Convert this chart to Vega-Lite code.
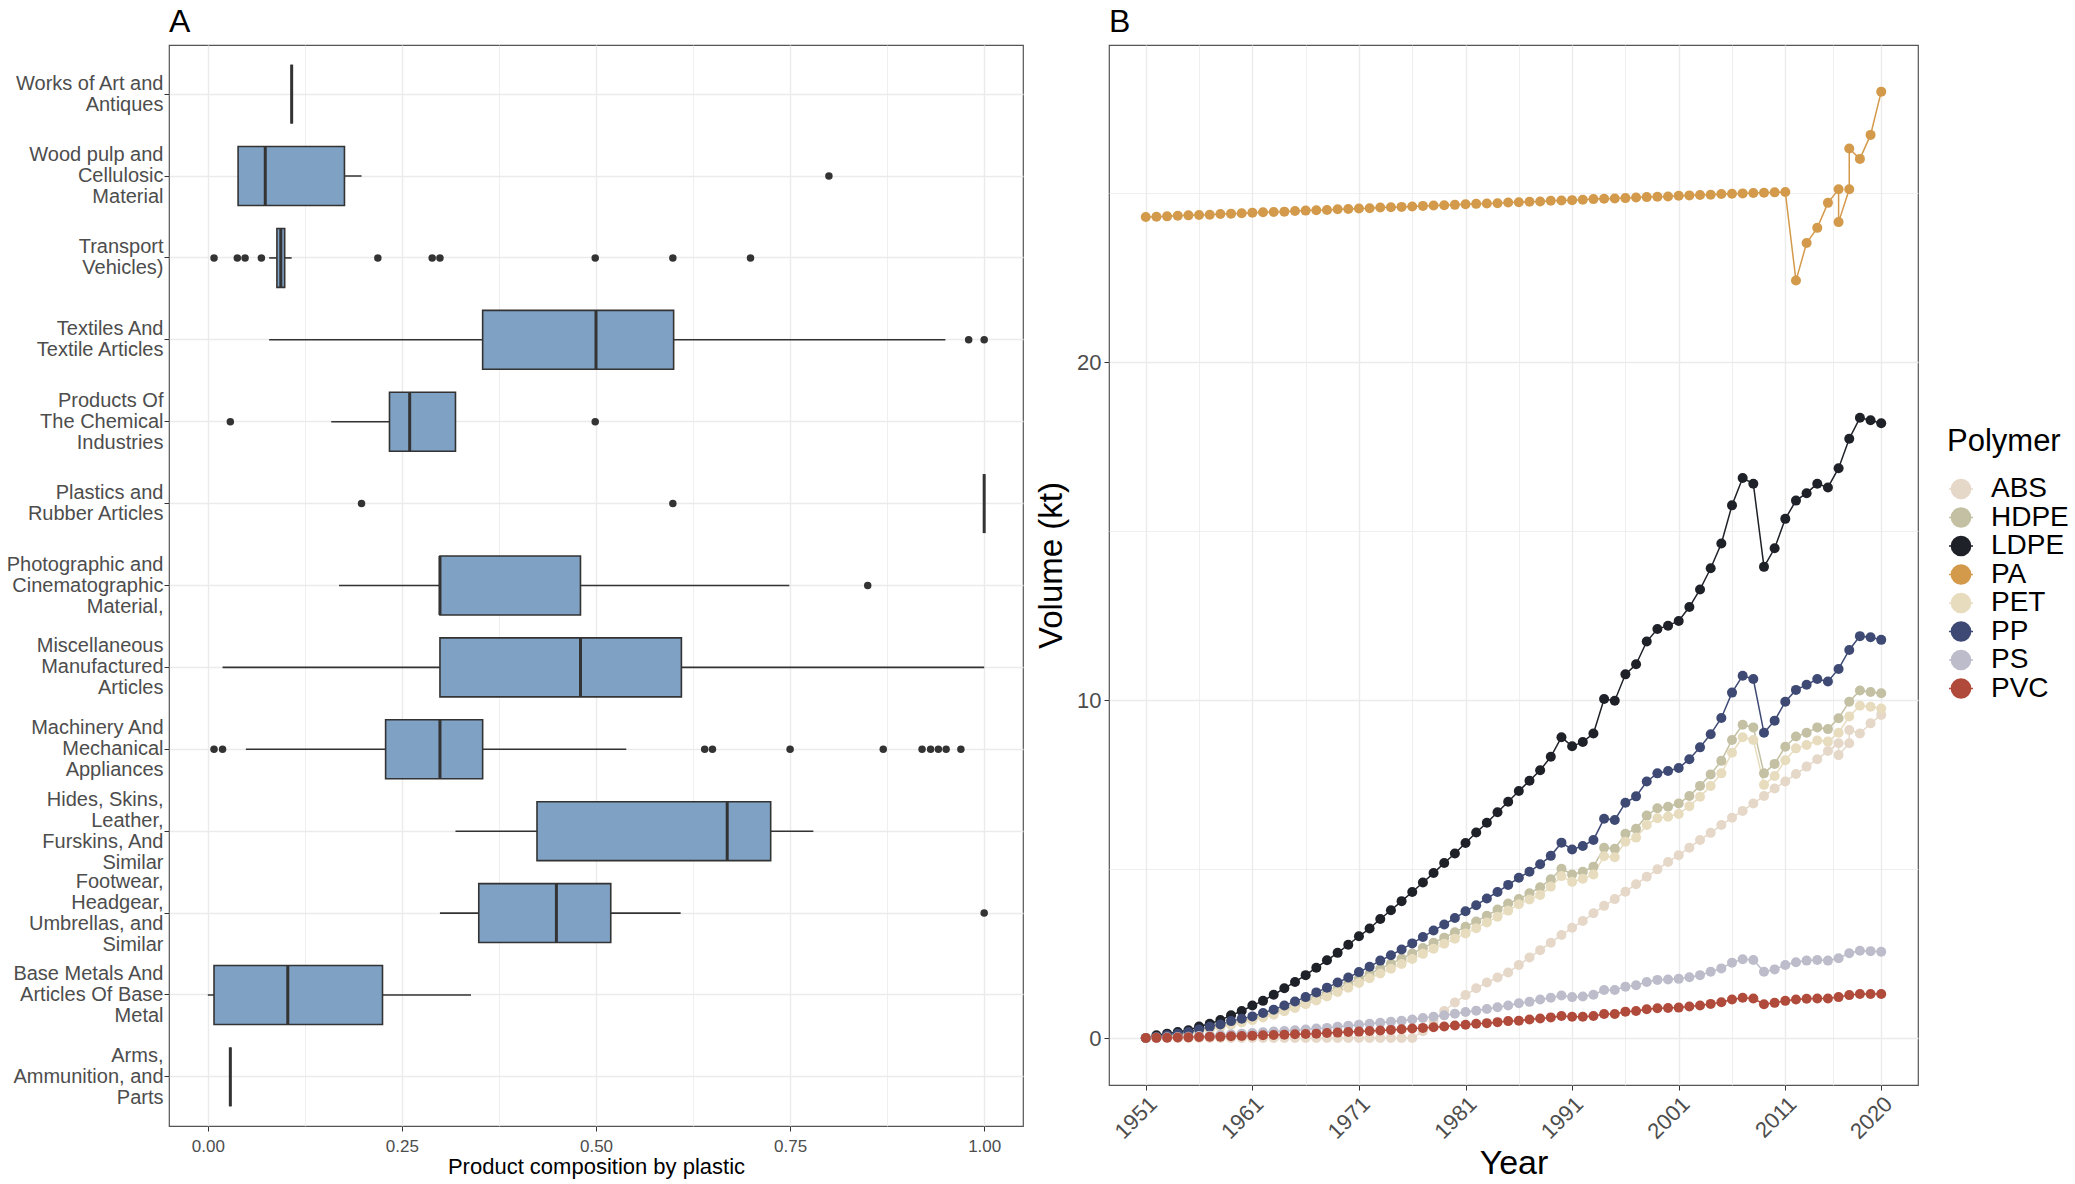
{
  "$schema": "https://vega.github.io/schema/vega-lite/v6.json",
  "background": "white",
  "padding": {"left": 5, "top": 5, "right": 5, "bottom": 0},
  "spacing": 10,
  "config": {
    "font": "Liberation Sans",
    "view": {"stroke": "#555555", "strokeWidth": 1.2},
    "title": {"fontSize": 32, "fontWeight": "normal", "anchor": "start", "frame": "group", "offset": 6, "color": "black"},
    "axis": {"domain": false, "tickColor": "#333333", "tickSize": 5, "gridColor": "#EBEBEB", "labelColor": "#4D4D4D", "titleColor": "black", "titleFontWeight": "normal"}
  },
  "resolve": {"scale": {"color": "shared"}},
  "datasets": {
    "box": [
      {"c": "Works of Art and\nAntiques", "lo": 0.108, "q1": 0.108, "med": 0.108, "q3": 0.108, "hi": 0.108},
      {"c": "Wood pulp and\nCellulosic\nMaterial", "lo": 0.039, "q1": 0.039, "med": 0.074, "q3": 0.176, "hi": 0.198},
      {"c": "Transport\nVehicles)", "lo": 0.079, "q1": 0.089, "med": 0.094, "q3": 0.099, "hi": 0.108},
      {"c": "Textiles And\nTextile Articles", "lo": 0.079, "q1": 0.354, "med": 0.5, "q3": 0.6, "hi": 0.95},
      {"c": "Products Of\nThe Chemical\nIndustries", "lo": 0.159, "q1": 0.234, "med": 0.26, "q3": 0.319, "hi": 0.319},
      {"c": "Plastics and\nRubber Articles", "lo": 1.0, "q1": 1.0, "med": 1.0, "q3": 1.0, "hi": 1.0},
      {"c": "Photographic and\nCinematographic\nMaterial,", "lo": 0.169, "q1": 0.299, "med": 0.299, "q3": 0.48, "hi": 0.749},
      {"c": "Miscellaneous\nManufactured\nArticles", "lo": 0.019, "q1": 0.299, "med": 0.48, "q3": 0.61, "hi": 1.0},
      {"c": "Machinery And\nMechanical\nAppliances", "lo": 0.049, "q1": 0.229, "med": 0.299, "q3": 0.354, "hi": 0.539},
      {"c": "Hides, Skins,\nLeather,\nFurskins, And\nSimilar", "lo": 0.319, "q1": 0.424, "med": 0.669, "q3": 0.725, "hi": 0.78},
      {"c": "Footwear,\nHeadgear,\nUmbrellas, and\nSimilar", "lo": 0.299, "q1": 0.349, "med": 0.449, "q3": 0.519, "hi": 0.609},
      {"c": "Base Metals And\nArticles Of Base\nMetal", "lo": 0.0, "q1": 0.008, "med": 0.103, "q3": 0.225, "hi": 0.339},
      {"c": "Arms,\nAmmunition, and\nParts", "lo": 0.029, "q1": 0.029, "med": 0.029, "q3": 0.029, "hi": 0.029}
    ],
    "out": [
      {"c": "Wood pulp and\nCellulosic\nMaterial", "x": 0.8},
      {"c": "Transport\nVehicles)", "x": 0.008},
      {"c": "Transport\nVehicles)", "x": 0.038},
      {"c": "Transport\nVehicles)", "x": 0.048},
      {"c": "Transport\nVehicles)", "x": 0.069},
      {"c": "Transport\nVehicles)", "x": 0.219},
      {"c": "Transport\nVehicles)", "x": 0.289},
      {"c": "Transport\nVehicles)", "x": 0.299},
      {"c": "Transport\nVehicles)", "x": 0.499},
      {"c": "Transport\nVehicles)", "x": 0.599},
      {"c": "Transport\nVehicles)", "x": 0.699},
      {"c": "Textiles And\nTextile Articles", "x": 0.98},
      {"c": "Textiles And\nTextile Articles", "x": 1.0},
      {"c": "Products Of\nThe Chemical\nIndustries", "x": 0.029},
      {"c": "Products Of\nThe Chemical\nIndustries", "x": 0.499},
      {"c": "Plastics and\nRubber Articles", "x": 0.198},
      {"c": "Plastics and\nRubber Articles", "x": 0.599},
      {"c": "Photographic and\nCinematographic\nMaterial,", "x": 0.85},
      {"c": "Machinery And\nMechanical\nAppliances", "x": 0.008},
      {"c": "Machinery And\nMechanical\nAppliances", "x": 0.019},
      {"c": "Machinery And\nMechanical\nAppliances", "x": 0.64},
      {"c": "Machinery And\nMechanical\nAppliances", "x": 0.65},
      {"c": "Machinery And\nMechanical\nAppliances", "x": 0.75},
      {"c": "Machinery And\nMechanical\nAppliances", "x": 0.87},
      {"c": "Machinery And\nMechanical\nAppliances", "x": 0.92},
      {"c": "Machinery And\nMechanical\nAppliances", "x": 0.931},
      {"c": "Machinery And\nMechanical\nAppliances", "x": 0.941},
      {"c": "Machinery And\nMechanical\nAppliances", "x": 0.951},
      {"c": "Machinery And\nMechanical\nAppliances", "x": 0.97},
      {"c": "Footwear,\nHeadgear,\nUmbrellas, and\nSimilar", "x": 1.0}
    ],
    "poly": [
      {"p":"ABS","yr":1951,"v":0},{"p":"ABS","yr":1952,"v":0},{"p":"ABS","yr":1953,"v":0},{"p":"ABS","yr":1954,"v":0},{"p":"ABS","yr":1955,"v":0},{"p":"ABS","yr":1956,"v":0},{"p":"ABS","yr":1957,"v":0},{"p":"ABS","yr":1958,"v":0},{"p":"ABS","yr":1959,"v":0},{"p":"ABS","yr":1960,"v":0},
      {"p":"ABS","yr":1961,"v":0},{"p":"ABS","yr":1962,"v":0},{"p":"ABS","yr":1963,"v":0},{"p":"ABS","yr":1964,"v":0},{"p":"ABS","yr":1965,"v":0},{"p":"ABS","yr":1966,"v":0},{"p":"ABS","yr":1967,"v":0},{"p":"ABS","yr":1968,"v":0},{"p":"ABS","yr":1969,"v":0},{"p":"ABS","yr":1970,"v":0},
      {"p":"ABS","yr":1971,"v":0},{"p":"ABS","yr":1972,"v":0},{"p":"ABS","yr":1973,"v":0},{"p":"ABS","yr":1974,"v":0},{"p":"ABS","yr":1975,"v":0},{"p":"ABS","yr":1976,"v":0},{"p":"ABS","yr":1977,"v":0.2},{"p":"ABS","yr":1978,"v":0.5},{"p":"ABS","yr":1979,"v":0.8},{"p":"ABS","yr":1980,"v":1.05},
      {"p":"ABS","yr":1981,"v":1.27},{"p":"ABS","yr":1982,"v":1.47},{"p":"ABS","yr":1983,"v":1.64},{"p":"ABS","yr":1984,"v":1.79},{"p":"ABS","yr":1985,"v":1.94},{"p":"ABS","yr":1986,"v":2.16},{"p":"ABS","yr":1987,"v":2.38},{"p":"ABS","yr":1988,"v":2.6},{"p":"ABS","yr":1989,"v":2.82},{"p":"ABS","yr":1990,"v":3.05},
      {"p":"ABS","yr":1991,"v":3.26},{"p":"ABS","yr":1992,"v":3.46},{"p":"ABS","yr":1993,"v":3.69},{"p":"ABS","yr":1994,"v":3.91},{"p":"ABS","yr":1995,"v":4.11},{"p":"ABS","yr":1996,"v":4.33},{"p":"ABS","yr":1997,"v":4.55},{"p":"ABS","yr":1998,"v":4.77},{"p":"ABS","yr":1999,"v":4.99},{"p":"ABS","yr":2000,"v":5.21},
      {"p":"ABS","yr":2001,"v":5.41},{"p":"ABS","yr":2002,"v":5.63},{"p":"ABS","yr":2003,"v":5.86},{"p":"ABS","yr":2004,"v":6.07},{"p":"ABS","yr":2005,"v":6.3},{"p":"ABS","yr":2006,"v":6.52},{"p":"ABS","yr":2007,"v":6.72},{"p":"ABS","yr":2008,"v":6.94},{"p":"ABS","yr":2009,"v":7.16},{"p":"ABS","yr":2010,"v":7.38},
      {"p":"ABS","yr":2011,"v":7.59},{"p":"ABS","yr":2012,"v":7.81},{"p":"ABS","yr":2013,"v":8.03},{"p":"ABS","yr":2014,"v":8.25},{"p":"ABS","yr":2015,"v":8.49},{"p":"ABS","yr":2016,"v":8.72},{"p":"ABS","yr":2016,"v":8.37},{"p":"ABS","yr":2017,"v":8.72},{"p":"ABS","yr":2017,"v":9.11},{"p":"ABS","yr":2018,"v":9.01},{"p":"ABS","yr":2019,"v":9.31},{"p":"ABS","yr":2020,"v":9.56},

      {"p":"HDPE","yr":1951,"v":0},{"p":"HDPE","yr":1952,"v":0.03},{"p":"HDPE","yr":1953,"v":0.07},{"p":"HDPE","yr":1954,"v":0.11},{"p":"HDPE","yr":1955,"v":0.16},{"p":"HDPE","yr":1956,"v":0.22},{"p":"HDPE","yr":1957,"v":0.29},{"p":"HDPE","yr":1958,"v":0.36},{"p":"HDPE","yr":1959,"v":0.44},{"p":"HDPE","yr":1960,"v":0.51},
      {"p":"HDPE","yr":1961,"v":0.58},{"p":"HDPE","yr":1962,"v":0.66},{"p":"HDPE","yr":1963,"v":0.75},{"p":"HDPE","yr":1964,"v":0.85},{"p":"HDPE","yr":1965,"v":0.96},{"p":"HDPE","yr":1966,"v":1.08},{"p":"HDPE","yr":1967,"v":1.2},{"p":"HDPE","yr":1968,"v":1.33},{"p":"HDPE","yr":1969,"v":1.47},{"p":"HDPE","yr":1970,"v":1.61},
      {"p":"HDPE","yr":1971,"v":1.76},{"p":"HDPE","yr":1972,"v":1.9},{"p":"HDPE","yr":1973,"v":2.05},{"p":"HDPE","yr":1974,"v":2.2},{"p":"HDPE","yr":1975,"v":2.35},{"p":"HDPE","yr":1976,"v":2.5},{"p":"HDPE","yr":1977,"v":2.66},{"p":"HDPE","yr":1978,"v":2.82},{"p":"HDPE","yr":1979,"v":2.97},{"p":"HDPE","yr":1980,"v":3.13},
      {"p":"HDPE","yr":1981,"v":3.29},{"p":"HDPE","yr":1982,"v":3.45},{"p":"HDPE","yr":1983,"v":3.62},{"p":"HDPE","yr":1984,"v":3.8},{"p":"HDPE","yr":1985,"v":3.98},{"p":"HDPE","yr":1986,"v":4.11},{"p":"HDPE","yr":1987,"v":4.28},{"p":"HDPE","yr":1988,"v":4.46},{"p":"HDPE","yr":1989,"v":4.7},{"p":"HDPE","yr":1990,"v":5.01},
      {"p":"HDPE","yr":1991,"v":4.84},{"p":"HDPE","yr":1992,"v":4.92},{"p":"HDPE","yr":1993,"v":5.07},{"p":"HDPE","yr":1994,"v":5.63},{"p":"HDPE","yr":1995,"v":5.6},{"p":"HDPE","yr":1996,"v":6.04},{"p":"HDPE","yr":1997,"v":6.19},{"p":"HDPE","yr":1998,"v":6.58},{"p":"HDPE","yr":1999,"v":6.8},{"p":"HDPE","yr":2000,"v":6.84},
      {"p":"HDPE","yr":2001,"v":6.94},{"p":"HDPE","yr":2002,"v":7.16},{"p":"HDPE","yr":2003,"v":7.46},{"p":"HDPE","yr":2004,"v":7.8},{"p":"HDPE","yr":2005,"v":8.2},{"p":"HDPE","yr":2006,"v":8.82},{"p":"HDPE","yr":2007,"v":9.27},{"p":"HDPE","yr":2008,"v":9.19},{"p":"HDPE","yr":2009,"v":7.83},{"p":"HDPE","yr":2010,"v":8.11},
      {"p":"HDPE","yr":2011,"v":8.62},{"p":"HDPE","yr":2012,"v":8.92},{"p":"HDPE","yr":2013,"v":9.03},{"p":"HDPE","yr":2014,"v":9.19},{"p":"HDPE","yr":2015,"v":9.14},{"p":"HDPE","yr":2016,"v":9.46},{"p":"HDPE","yr":2017,"v":9.95},{"p":"HDPE","yr":2018,"v":10.28},{"p":"HDPE","yr":2019,"v":10.24},{"p":"HDPE","yr":2020,"v":10.2},

      {"p":"LDPE","yr":1951,"v":0},{"p":"LDPE","yr":1952,"v":0.08},{"p":"LDPE","yr":1953,"v":0.13},{"p":"LDPE","yr":1954,"v":0.18},{"p":"LDPE","yr":1955,"v":0.23},{"p":"LDPE","yr":1956,"v":0.34},{"p":"LDPE","yr":1957,"v":0.42},{"p":"LDPE","yr":1958,"v":0.53},{"p":"LDPE","yr":1959,"v":0.67},{"p":"LDPE","yr":1960,"v":0.8},
      {"p":"LDPE","yr":1961,"v":0.96},{"p":"LDPE","yr":1962,"v":1.1},{"p":"LDPE","yr":1963,"v":1.28},{"p":"LDPE","yr":1964,"v":1.47},{"p":"LDPE","yr":1965,"v":1.66},{"p":"LDPE","yr":1966,"v":1.86},{"p":"LDPE","yr":1967,"v":2.08},{"p":"LDPE","yr":1968,"v":2.3},{"p":"LDPE","yr":1969,"v":2.52},{"p":"LDPE","yr":1970,"v":2.76},
      {"p":"LDPE","yr":1971,"v":3.01},{"p":"LDPE","yr":1972,"v":3.24},{"p":"LDPE","yr":1973,"v":3.52},{"p":"LDPE","yr":1974,"v":3.78},{"p":"LDPE","yr":1975,"v":4.05},{"p":"LDPE","yr":1976,"v":4.32},{"p":"LDPE","yr":1977,"v":4.6},{"p":"LDPE","yr":1978,"v":4.88},{"p":"LDPE","yr":1979,"v":5.18},{"p":"LDPE","yr":1980,"v":5.46},
      {"p":"LDPE","yr":1981,"v":5.77},{"p":"LDPE","yr":1982,"v":6.08},{"p":"LDPE","yr":1983,"v":6.37},{"p":"LDPE","yr":1984,"v":6.68},{"p":"LDPE","yr":1985,"v":6.99},{"p":"LDPE","yr":1986,"v":7.31},{"p":"LDPE","yr":1987,"v":7.61},{"p":"LDPE","yr":1988,"v":7.92},{"p":"LDPE","yr":1989,"v":8.32},{"p":"LDPE","yr":1990,"v":8.9},
      {"p":"LDPE","yr":1991,"v":8.63},{"p":"LDPE","yr":1992,"v":8.76},{"p":"LDPE","yr":1993,"v":9.01},{"p":"LDPE","yr":1994,"v":10.03},{"p":"LDPE","yr":1995,"v":9.98},{"p":"LDPE","yr":1996,"v":10.76},{"p":"LDPE","yr":1997,"v":11.06},{"p":"LDPE","yr":1998,"v":11.73},{"p":"LDPE","yr":1999,"v":12.1},{"p":"LDPE","yr":2000,"v":12.2},
      {"p":"LDPE","yr":2001,"v":12.34},{"p":"LDPE","yr":2002,"v":12.75},{"p":"LDPE","yr":2003,"v":13.27},{"p":"LDPE","yr":2004,"v":13.9},{"p":"LDPE","yr":2005,"v":14.63},{"p":"LDPE","yr":2006,"v":15.76},{"p":"LDPE","yr":2007,"v":16.57},{"p":"LDPE","yr":2008,"v":16.4},{"p":"LDPE","yr":2009,"v":13.94},{"p":"LDPE","yr":2010,"v":14.49},
      {"p":"LDPE","yr":2011,"v":15.36},{"p":"LDPE","yr":2012,"v":15.9},{"p":"LDPE","yr":2013,"v":16.12},{"p":"LDPE","yr":2014,"v":16.4},{"p":"LDPE","yr":2015,"v":16.29},{"p":"LDPE","yr":2016,"v":16.86},{"p":"LDPE","yr":2017,"v":17.73},{"p":"LDPE","yr":2018,"v":18.35},{"p":"LDPE","yr":2019,"v":18.28},{"p":"LDPE","yr":2020,"v":18.19},

      {"p":"PA","yr":1951,"v":24.29},{"p":"PA","yr":1952,"v":24.3},{"p":"PA","yr":1953,"v":24.31},{"p":"PA","yr":1954,"v":24.33},{"p":"PA","yr":1955,"v":24.34},{"p":"PA","yr":1956,"v":24.35},{"p":"PA","yr":1957,"v":24.36},{"p":"PA","yr":1958,"v":24.38},{"p":"PA","yr":1959,"v":24.39},{"p":"PA","yr":1960,"v":24.4},
      {"p":"PA","yr":1961,"v":24.42},{"p":"PA","yr":1962,"v":24.43},{"p":"PA","yr":1963,"v":24.44},{"p":"PA","yr":1964,"v":24.45},{"p":"PA","yr":1965,"v":24.47},{"p":"PA","yr":1966,"v":24.48},{"p":"PA","yr":1967,"v":24.49},{"p":"PA","yr":1968,"v":24.5},{"p":"PA","yr":1969,"v":24.52},{"p":"PA","yr":1970,"v":24.53},
      {"p":"PA","yr":1971,"v":24.54},{"p":"PA","yr":1972,"v":24.55},{"p":"PA","yr":1973,"v":24.57},{"p":"PA","yr":1974,"v":24.58},{"p":"PA","yr":1975,"v":24.59},{"p":"PA","yr":1976,"v":24.6},{"p":"PA","yr":1977,"v":24.62},{"p":"PA","yr":1978,"v":24.63},{"p":"PA","yr":1979,"v":24.64},{"p":"PA","yr":1980,"v":24.65},
      {"p":"PA","yr":1981,"v":24.67},{"p":"PA","yr":1982,"v":24.68},{"p":"PA","yr":1983,"v":24.69},{"p":"PA","yr":1984,"v":24.7},{"p":"PA","yr":1985,"v":24.72},{"p":"PA","yr":1986,"v":24.73},{"p":"PA","yr":1987,"v":24.74},{"p":"PA","yr":1988,"v":24.75},{"p":"PA","yr":1989,"v":24.77},{"p":"PA","yr":1990,"v":24.78},
      {"p":"PA","yr":1991,"v":24.79},{"p":"PA","yr":1992,"v":24.8},{"p":"PA","yr":1993,"v":24.82},{"p":"PA","yr":1994,"v":24.83},{"p":"PA","yr":1995,"v":24.84},{"p":"PA","yr":1996,"v":24.85},{"p":"PA","yr":1997,"v":24.87},{"p":"PA","yr":1998,"v":24.88},{"p":"PA","yr":1999,"v":24.89},{"p":"PA","yr":2000,"v":24.9},
      {"p":"PA","yr":2001,"v":24.92},{"p":"PA","yr":2002,"v":24.93},{"p":"PA","yr":2003,"v":24.94},{"p":"PA","yr":2004,"v":24.95},{"p":"PA","yr":2005,"v":24.97},{"p":"PA","yr":2006,"v":24.98},{"p":"PA","yr":2007,"v":24.99},{"p":"PA","yr":2008,"v":25.0},{"p":"PA","yr":2009,"v":25.01},{"p":"PA","yr":2010,"v":25.02},
      {"p":"PA","yr":2011,"v":25.03},{"p":"PA","yr":2012,"v":22.41},{"p":"PA","yr":2013,"v":23.52},{"p":"PA","yr":2014,"v":23.97},{"p":"PA","yr":2015,"v":24.71},{"p":"PA","yr":2016,"v":25.11},{"p":"PA","yr":2016,"v":24.14},{"p":"PA","yr":2017,"v":25.11},{"p":"PA","yr":2017,"v":26.32},{"p":"PA","yr":2018,"v":26.01},{"p":"PA","yr":2019,"v":26.72},{"p":"PA","yr":2020,"v":28.0},

      {"p":"PET","yr":1951,"v":0},{"p":"PET","yr":1952,"v":0.02},{"p":"PET","yr":1953,"v":0.05},{"p":"PET","yr":1954,"v":0.09},{"p":"PET","yr":1955,"v":0.13},{"p":"PET","yr":1956,"v":0.19},{"p":"PET","yr":1957,"v":0.25},{"p":"PET","yr":1958,"v":0.32},{"p":"PET","yr":1959,"v":0.39},{"p":"PET","yr":1960,"v":0.46},
      {"p":"PET","yr":1961,"v":0.53},{"p":"PET","yr":1962,"v":0.61},{"p":"PET","yr":1963,"v":0.69},{"p":"PET","yr":1964,"v":0.79},{"p":"PET","yr":1965,"v":0.89},{"p":"PET","yr":1966,"v":1.0},{"p":"PET","yr":1967,"v":1.11},{"p":"PET","yr":1968,"v":1.23},{"p":"PET","yr":1969,"v":1.36},{"p":"PET","yr":1970,"v":1.49},
      {"p":"PET","yr":1971,"v":1.63},{"p":"PET","yr":1972,"v":1.77},{"p":"PET","yr":1973,"v":1.91},{"p":"PET","yr":1974,"v":2.05},{"p":"PET","yr":1975,"v":2.19},{"p":"PET","yr":1976,"v":2.34},{"p":"PET","yr":1977,"v":2.49},{"p":"PET","yr":1978,"v":2.64},{"p":"PET","yr":1979,"v":2.79},{"p":"PET","yr":1980,"v":2.94},
      {"p":"PET","yr":1981,"v":3.09},{"p":"PET","yr":1982,"v":3.25},{"p":"PET","yr":1983,"v":3.42},{"p":"PET","yr":1984,"v":3.59},{"p":"PET","yr":1985,"v":3.77},{"p":"PET","yr":1986,"v":3.96},{"p":"PET","yr":1987,"v":4.1},{"p":"PET","yr":1988,"v":4.23},{"p":"PET","yr":1989,"v":4.48},{"p":"PET","yr":1990,"v":4.79},
      {"p":"PET","yr":1991,"v":4.62},{"p":"PET","yr":1992,"v":4.71},{"p":"PET","yr":1993,"v":4.84},{"p":"PET","yr":1994,"v":5.38},{"p":"PET","yr":1995,"v":5.35},{"p":"PET","yr":1996,"v":5.81},{"p":"PET","yr":1997,"v":5.93},{"p":"PET","yr":1998,"v":6.3},{"p":"PET","yr":1999,"v":6.5},{"p":"PET","yr":2000,"v":6.55},
      {"p":"PET","yr":2001,"v":6.63},{"p":"PET","yr":2002,"v":6.86},{"p":"PET","yr":2003,"v":7.14},{"p":"PET","yr":2004,"v":7.46},{"p":"PET","yr":2005,"v":7.83},{"p":"PET","yr":2006,"v":8.44},{"p":"PET","yr":2007,"v":8.9},{"p":"PET","yr":2008,"v":8.82},{"p":"PET","yr":2009,"v":7.49},{"p":"PET","yr":2010,"v":7.75},
      {"p":"PET","yr":2011,"v":8.22},{"p":"PET","yr":2012,"v":8.57},{"p":"PET","yr":2013,"v":8.67},{"p":"PET","yr":2014,"v":8.8},{"p":"PET","yr":2015,"v":8.77},{"p":"PET","yr":2016,"v":9.03},{"p":"PET","yr":2017,"v":9.51},{"p":"PET","yr":2018,"v":9.83},{"p":"PET","yr":2019,"v":9.8},{"p":"PET","yr":2020,"v":9.75},

      {"p":"PP","yr":1951,"v":0},{"p":"PP","yr":1952,"v":0.03},{"p":"PP","yr":1953,"v":0.08},{"p":"PP","yr":1954,"v":0.13},{"p":"PP","yr":1955,"v":0.18},{"p":"PP","yr":1956,"v":0.25},{"p":"PP","yr":1957,"v":0.33},{"p":"PP","yr":1958,"v":0.4},{"p":"PP","yr":1959,"v":0.5},{"p":"PP","yr":1960,"v":0.57},
      {"p":"PP","yr":1961,"v":0.64},{"p":"PP","yr":1962,"v":0.74},{"p":"PP","yr":1963,"v":0.84},{"p":"PP","yr":1964,"v":0.96},{"p":"PP","yr":1965,"v":1.08},{"p":"PP","yr":1966,"v":1.21},{"p":"PP","yr":1967,"v":1.35},{"p":"PP","yr":1968,"v":1.49},{"p":"PP","yr":1969,"v":1.64},{"p":"PP","yr":1970,"v":1.79},
      {"p":"PP","yr":1971,"v":1.95},{"p":"PP","yr":1972,"v":2.11},{"p":"PP","yr":1973,"v":2.29},{"p":"PP","yr":1974,"v":2.45},{"p":"PP","yr":1975,"v":2.62},{"p":"PP","yr":1976,"v":2.8},{"p":"PP","yr":1977,"v":2.99},{"p":"PP","yr":1978,"v":3.18},{"p":"PP","yr":1979,"v":3.36},{"p":"PP","yr":1980,"v":3.55},
      {"p":"PP","yr":1981,"v":3.75},{"p":"PP","yr":1982,"v":3.93},{"p":"PP","yr":1983,"v":4.13},{"p":"PP","yr":1984,"v":4.32},{"p":"PP","yr":1985,"v":4.53},{"p":"PP","yr":1986,"v":4.74},{"p":"PP","yr":1987,"v":4.92},{"p":"PP","yr":1988,"v":5.14},{"p":"PP","yr":1989,"v":5.39},{"p":"PP","yr":1990,"v":5.78},
      {"p":"PP","yr":1991,"v":5.58},{"p":"PP","yr":1992,"v":5.68},{"p":"PP","yr":1993,"v":5.86},{"p":"PP","yr":1994,"v":6.49},{"p":"PP","yr":1995,"v":6.45},{"p":"PP","yr":1996,"v":6.96},{"p":"PP","yr":1997,"v":7.15},{"p":"PP","yr":1998,"v":7.59},{"p":"PP","yr":1999,"v":7.83},{"p":"PP","yr":2000,"v":7.9},
      {"p":"PP","yr":2001,"v":7.99},{"p":"PP","yr":2002,"v":8.25},{"p":"PP","yr":2003,"v":8.6},{"p":"PP","yr":2004,"v":8.99},{"p":"PP","yr":2005,"v":9.47},{"p":"PP","yr":2006,"v":10.22},{"p":"PP","yr":2007,"v":10.72},{"p":"PP","yr":2008,"v":10.62},{"p":"PP","yr":2009,"v":9.03},{"p":"PP","yr":2010,"v":9.39},
      {"p":"PP","yr":2011,"v":9.95},{"p":"PP","yr":2012,"v":10.3},{"p":"PP","yr":2013,"v":10.45},{"p":"PP","yr":2014,"v":10.62},{"p":"PP","yr":2015,"v":10.55},{"p":"PP","yr":2016,"v":10.92},{"p":"PP","yr":2017,"v":11.48},{"p":"PP","yr":2018,"v":11.89},{"p":"PP","yr":2019,"v":11.86},{"p":"PP","yr":2020,"v":11.78},

      {"p":"PS","yr":1951,"v":0},{"p":"PS","yr":1952,"v":0.01},{"p":"PS","yr":1953,"v":0.02},{"p":"PS","yr":1954,"v":0.03},{"p":"PS","yr":1955,"v":0.04},{"p":"PS","yr":1956,"v":0.06},{"p":"PS","yr":1957,"v":0.07},{"p":"PS","yr":1958,"v":0.09},{"p":"PS","yr":1959,"v":0.11},{"p":"PS","yr":1960,"v":0.13},
      {"p":"PS","yr":1961,"v":0.15},{"p":"PS","yr":1962,"v":0.17},{"p":"PS","yr":1963,"v":0.19},{"p":"PS","yr":1964,"v":0.21},{"p":"PS","yr":1965,"v":0.23},{"p":"PS","yr":1966,"v":0.25},{"p":"PS","yr":1967,"v":0.28},{"p":"PS","yr":1968,"v":0.3},{"p":"PS","yr":1969,"v":0.33},{"p":"PS","yr":1970,"v":0.36},
      {"p":"PS","yr":1971,"v":0.39},{"p":"PS","yr":1972,"v":0.42},{"p":"PS","yr":1973,"v":0.45},{"p":"PS","yr":1974,"v":0.48},{"p":"PS","yr":1975,"v":0.51},{"p":"PS","yr":1976,"v":0.55},{"p":"PS","yr":1977,"v":0.59},{"p":"PS","yr":1978,"v":0.63},{"p":"PS","yr":1979,"v":0.67},{"p":"PS","yr":1980,"v":0.72},
      {"p":"PS","yr":1981,"v":0.77},{"p":"PS","yr":1982,"v":0.81},{"p":"PS","yr":1983,"v":0.86},{"p":"PS","yr":1984,"v":0.91},{"p":"PS","yr":1985,"v":0.96},{"p":"PS","yr":1986,"v":1.03},{"p":"PS","yr":1987,"v":1.07},{"p":"PS","yr":1988,"v":1.14},{"p":"PS","yr":1989,"v":1.19},{"p":"PS","yr":1990,"v":1.26},
      {"p":"PS","yr":1991,"v":1.21},{"p":"PS","yr":1992,"v":1.23},{"p":"PS","yr":1993,"v":1.28},{"p":"PS","yr":1994,"v":1.42},{"p":"PS","yr":1995,"v":1.42},{"p":"PS","yr":1996,"v":1.52},{"p":"PS","yr":1997,"v":1.56},{"p":"PS","yr":1998,"v":1.66},{"p":"PS","yr":1999,"v":1.72},{"p":"PS","yr":2000,"v":1.73},
      {"p":"PS","yr":2001,"v":1.75},{"p":"PS","yr":2002,"v":1.8},{"p":"PS","yr":2003,"v":1.86},{"p":"PS","yr":2004,"v":1.96},{"p":"PS","yr":2005,"v":2.06},{"p":"PS","yr":2006,"v":2.23},{"p":"PS","yr":2007,"v":2.33},{"p":"PS","yr":2008,"v":2.31},{"p":"PS","yr":2009,"v":1.96},{"p":"PS","yr":2010,"v":2.03},
      {"p":"PS","yr":2011,"v":2.16},{"p":"PS","yr":2012,"v":2.24},{"p":"PS","yr":2013,"v":2.29},{"p":"PS","yr":2014,"v":2.31},{"p":"PS","yr":2015,"v":2.29},{"p":"PS","yr":2016,"v":2.36},{"p":"PS","yr":2017,"v":2.51},{"p":"PS","yr":2018,"v":2.58},{"p":"PS","yr":2019,"v":2.57},{"p":"PS","yr":2020,"v":2.55},

      {"p":"PVC","yr":1951,"v":0},{"p":"PVC","yr":1952,"v":0.005},{"p":"PVC","yr":1953,"v":0.01},{"p":"PVC","yr":1954,"v":0.015},{"p":"PVC","yr":1955,"v":0.02},{"p":"PVC","yr":1956,"v":0.03},{"p":"PVC","yr":1957,"v":0.035},{"p":"PVC","yr":1958,"v":0.04},{"p":"PVC","yr":1959,"v":0.05},{"p":"PVC","yr":1960,"v":0.06},
      {"p":"PVC","yr":1961,"v":0.07},{"p":"PVC","yr":1962,"v":0.08},{"p":"PVC","yr":1963,"v":0.09},{"p":"PVC","yr":1964,"v":0.1},{"p":"PVC","yr":1965,"v":0.11},{"p":"PVC","yr":1966,"v":0.12},{"p":"PVC","yr":1967,"v":0.13},{"p":"PVC","yr":1968,"v":0.15},{"p":"PVC","yr":1969,"v":0.16},{"p":"PVC","yr":1970,"v":0.18},
      {"p":"PVC","yr":1971,"v":0.19},{"p":"PVC","yr":1972,"v":0.21},{"p":"PVC","yr":1973,"v":0.22},{"p":"PVC","yr":1974,"v":0.24},{"p":"PVC","yr":1975,"v":0.26},{"p":"PVC","yr":1976,"v":0.28},{"p":"PVC","yr":1977,"v":0.3},{"p":"PVC","yr":1978,"v":0.32},{"p":"PVC","yr":1979,"v":0.34},{"p":"PVC","yr":1980,"v":0.37},
      {"p":"PVC","yr":1981,"v":0.39},{"p":"PVC","yr":1982,"v":0.42},{"p":"PVC","yr":1983,"v":0.44},{"p":"PVC","yr":1984,"v":0.47},{"p":"PVC","yr":1985,"v":0.5},{"p":"PVC","yr":1986,"v":0.51},{"p":"PVC","yr":1987,"v":0.55},{"p":"PVC","yr":1988,"v":0.58},{"p":"PVC","yr":1989,"v":0.61},{"p":"PVC","yr":1990,"v":0.65},
      {"p":"PVC","yr":1991,"v":0.63},{"p":"PVC","yr":1992,"v":0.63},{"p":"PVC","yr":1993,"v":0.65},{"p":"PVC","yr":1994,"v":0.71},{"p":"PVC","yr":1995,"v":0.71},{"p":"PVC","yr":1996,"v":0.78},{"p":"PVC","yr":1997,"v":0.8},{"p":"PVC","yr":1998,"v":0.85},{"p":"PVC","yr":1999,"v":0.88},{"p":"PVC","yr":2000,"v":0.89},
      {"p":"PVC","yr":2001,"v":0.9},{"p":"PVC","yr":2002,"v":0.93},{"p":"PVC","yr":2003,"v":0.96},{"p":"PVC","yr":2004,"v":1.01},{"p":"PVC","yr":2005,"v":1.06},{"p":"PVC","yr":2006,"v":1.14},{"p":"PVC","yr":2007,"v":1.19},{"p":"PVC","yr":2008,"v":1.17},{"p":"PVC","yr":2009,"v":1.0},{"p":"PVC","yr":2010,"v":1.04},
      {"p":"PVC","yr":2011,"v":1.1},{"p":"PVC","yr":2012,"v":1.14},{"p":"PVC","yr":2013,"v":1.16},{"p":"PVC","yr":2014,"v":1.17},{"p":"PVC","yr":2015,"v":1.17},{"p":"PVC","yr":2016,"v":1.21},{"p":"PVC","yr":2017,"v":1.27},{"p":"PVC","yr":2018,"v":1.3},{"p":"PVC","yr":2019,"v":1.3},{"p":"PVC","yr":2020,"v":1.3}
    ]
  },
  "hconcat": [
    {
      "width": 854,
      "height": 1081,
      "title": {"text": "A"},
      "encoding": {
        "y": {
          "field": "c", "type": "nominal",
          "sort": ["Works of Art and\nAntiques", "Wood pulp and\nCellulosic\nMaterial", "Transport\nVehicles)", "Textiles And\nTextile Articles", "Products Of\nThe Chemical\nIndustries", "Plastics and\nRubber Articles", "Photographic and\nCinematographic\nMaterial,", "Miscellaneous\nManufactured\nArticles", "Machinery And\nMechanical\nAppliances", "Hides, Skins,\nLeather,\nFurskins, And\nSimilar", "Footwear,\nHeadgear,\nUmbrellas, and\nSimilar", "Base Metals And\nArticles Of Base\nMetal", "Arms,\nAmmunition, and\nParts"],
          "scale": {"paddingInner": 0, "paddingOuter": 0.1},
          "axis": {
            "title": null, "labelExpr": "split(datum.label, '\\n')", "labelFontSize": 20, "labelLineHeight": 21, "labelLimit": 0, "labelPadding": 1, "grid": true, "gridWidth": 1.4,
            "labelOffset": {"condition": [
              {"test": "length(split(datum.value, '\\n')) == 4", "value": -31.5},
              {"test": "length(split(datum.value, '\\n')) == 3", "value": -21}
            ], "value": -10.5}
          }
        }
      },
      "layer": [
        {
          "data": {"name": "box"},
          "mark": {"type": "rule", "color": "#333333", "strokeWidth": 1.6},
          "encoding": {
            "x": {
              "field": "lo", "type": "quantitative",
              "scale": {"domain": [-0.05, 1.05], "nice": false, "zero": false},
              "axis": {
                "title": "Product composition by plastic", "titleFontSize": 22, "titlePadding": 2,
                "values": [0, 0.125, 0.25, 0.375, 0.5, 0.625, 0.75, 0.875, 1],
                "labelExpr": "datum.value * 4 % 1 == 0 ? format(datum.value, '.2f') : ''",
                "labelFontSize": 17, "labelPadding": 7, "labelFlush": false,
                "tickOpacity": {"condition": {"test": "datum.value * 4 % 1 != 0", "value": 0}, "value": 1},
                "gridWidth": {"condition": {"test": "datum.value * 4 % 1 != 0", "value": 0.8}, "value": 1.4}
              }
            },
            "x2": {"field": "hi"}
          }
        },
        {
          "data": {"name": "box"},
          "mark": {"type": "bar", "fill": "#7FA1C4", "stroke": "#333333", "strokeWidth": 1.6, "height": {"band": 0.72}, "opacity": 1},
          "encoding": {"x": {"field": "q1", "type": "quantitative"}, "x2": {"field": "q3"}}
        },
        {
          "data": {"name": "box"},
          "mark": {"type": "tick", "color": "#333333", "size": 59, "thickness": 3, "opacity": 1},
          "encoding": {"x": {"field": "med", "type": "quantitative"}}
        },
        {
          "data": {"name": "out"},
          "mark": {"type": "circle", "color": "#333333", "size": 56, "opacity": 1},
          "encoding": {"x": {"field": "x", "type": "quantitative"}}
        }
      ]
    },
    {
      "width": 809,
      "height": 1040,
      "title": {"text": "B"},
      "data": {"name": "poly"},
      "encoding": {
        "x": {
          "field": "yr", "type": "quantitative",
          "scale": {"domain": [1947.55, 2023.45], "nice": false, "zero": false},
          "axis": {
            "title": "Year", "titleFontSize": 34, "titlePadding": 4,
            "values": [1951, 1956, 1961, 1966, 1971, 1976, 1981, 1986, 1991, 1996, 2001, 2006, 2011, 2015.5, 2020],
            "labelExpr": "(datum.value - 1951) % 10 == 0 || datum.value == 2020 ? datum.value + '' : ''",
            "labelAngle": -45, "labelFontSize": 22, "labelPadding": 3,
            "tickOpacity": {"condition": {"test": "(datum.value - 1951) % 10 != 0 && datum.value != 2020", "value": 0}, "value": 1},
            "gridWidth": {"condition": {"test": "(datum.value - 1951) % 10 != 0 && datum.value != 2020", "value": 0.8}, "value": 1.4}
          }
        },
        "y": {
          "field": "v", "type": "quantitative",
          "scale": {"domain": [-1.39, 29.38], "nice": false, "zero": false},
          "axis": {
            "title": "Volume (kt)", "titleFontSize": 33, "titlePadding": 8,
            "values": [0, 5, 10, 15, 20, 25],
            "labelExpr": "datum.value % 10 == 0 ? datum.label : ''",
            "labelFontSize": 22, "labelPadding": 3,
            "tickOpacity": {"condition": {"test": "datum.value % 10 != 0", "value": 0}, "value": 1},
            "gridWidth": {"condition": {"test": "datum.value % 10 != 0", "value": 0.8}, "value": 1.4}
          }
        },
        "color": {"field": "p", "type": "nominal",
          "scale": {"domain": ["ABS", "HDPE", "LDPE", "PA", "PET", "PP", "PS", "PVC"], "range": ["#E6D8C9", "#C3C0A3", "#1F2129", "#D39A4B", "#E8DCBE", "#3E4A74", "#BDBCCB", "#B04A3B"]},
          "legend": {
            "orient": "none", "legendX": 1778, "legendY": 382,
            "title": "Polymer", "titleFontSize": 31, "titleFontWeight": "normal", "titleColor": "black", "titlePadding": 17,
            "labelFontSize": 28, "labelColor": "black", "labelOffset": 16,
            "symbolType": "M -1 0 L 1 0 M -0.8 0 A 0.8 0.8 0 1 1 0.8 0 A 0.8 0.8 0 1 1 -0.8 0 Z",
            "symbolSize": 576, "symbolStrokeWidth": 1.5, "symbolOpacity": 1,
            "rowPadding": 0.5, "padding": 0,
            "encode": {"symbols": {"update": {"stroke": {"scale": "color", "field": "value"}, "fill": {"scale": "color", "field": "value"}}}}
          }
        }
      },
      "layer": [
        {"mark": {"type": "line", "strokeWidth": 1.5, "opacity": 1}},
        {"mark": {"type": "point", "filled": true, "size": 100, "opacity": 1}}
      ]
    }
  ]
}
